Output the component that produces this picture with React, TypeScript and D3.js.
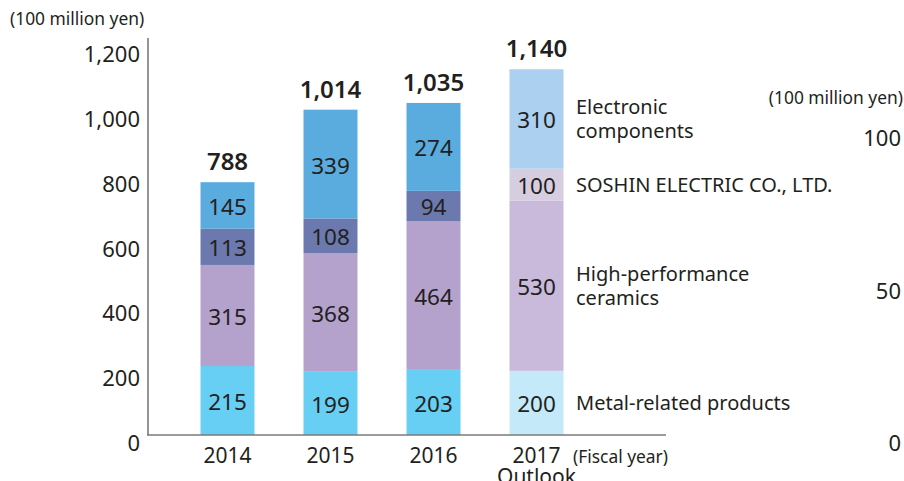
import React from "react";
import * as d3 from "d3";

const categories = ["2014", "2015", "2016", "2017"];
const metal = [215, 199, 203, 200];
const ceramics = [315, 368, 464, 530];
const soshin = [113, 108, 94, 100];
const electronic = [145, 339, 274, 310];
const totals = ["788", "1,014", "1,035", "1,140"];
const leftTicks = [0, 200, 400, 600, 800, 1000, 1200];
const rightTicks = [0, 50, 100];
const seriesKeys = ["metal", "ceramics", "soshin", "electronic"];
const legendLines = [
  ["Metal-related products"],
  ["High-performance", "ceramics"],
  ["SOSHIN ELECTRIC CO., LTD."],
  ["Electronic", "components"],
];
const colors = ["#67cef4", "#b4a1cc", "#6b79ae", "#5aabde"];
const outlookColors = ["#c4e9f8", "#c9badc", "#d7cde1", "#acd0ef"];

const FONT = "'Noto Sans', 'Open Sans', sans-serif";
const TEXT = "#231f20";

export default function App() {
  const W = 904;
  const H = 481;
  const x = d3
    .scaleBand<string>()
    .domain(categories)
    .range([176, 588])
    .paddingInner(0.476)
    .paddingOuter(0.238);
  const y = d3.scaleLinear().domain([0, 1200]).range([435, 50]);
  const yLabel = d3.scaleLinear().domain([0, 1200]).range([442, 53]);
  const yR = d3.scaleLinear().domain([0, 100]).range([442, 137]);

  const rows = categories.map((c, i) => ({
    cat: c,
    metal: metal[i],
    ceramics: ceramics[i],
    soshin: soshin[i],
    electronic: electronic[i],
  }));
  const stacked = d3.stack<any>().keys(seriesKeys)(rows);
  const lastIdx = categories.length - 1;
  const axisColor = "#7a7a7a";

  return (
    <svg
      width={W}
      height={H}
      style={{ position: "absolute", left: 0, top: 0, background: "#fff" }}
      fontFamily={FONT}
    >
      {/* left unit */}
      <text x={10} y={18} fontSize={17.4} fill={TEXT} dominantBaseline="central">
        (100 million yen)
      </text>
      {/* left ticks */}
      {leftTicks.map((t) => (
        <text
          key={t}
          x={140}
          y={yLabel(t)}
          fontSize={22}
          fill={TEXT}
          textAnchor="end"
          dominantBaseline="central"
        >
          {d3.format(",")(t)}
        </text>
      ))}
      {/* bars */}
      {stacked.map((s, si) =>
        s.map((d, ci) => {
          const bx = x(categories[ci])!;
          const bw = x.bandwidth();
          const y0 = y(d[0]);
          const y1 = y(d[1]);
          const fill = ci === lastIdx ? outlookColors[si] : colors[si];
          return (
            <g key={`${si}-${ci}`}>
              <rect x={bx} y={y1} width={bw} height={y0 - y1} fill={fill} />
              <text
                x={bx + bw / 2}
                y={(y0 + y1) / 2 + 1}
                fontSize={22.5}
                fill={TEXT}
                textAnchor="middle"
                dominantBaseline="central"
              >
                {d[1] - d[0]}
              </text>
            </g>
          );
        })
      )}
      {/* totals */}
      {categories.map((c, i) => {
        const top = stacked[stacked.length - 1][i][1];
        return (
          <text
            key={c}
            x={x(c)! + x.bandwidth() / 2}
            y={y(top) - 12}
            fontSize={24}
            fontWeight={600}
            fill={TEXT}
            textAnchor="middle"
          >
            {totals[i]}
          </text>
        );
      })}
      {/* legend labels next to last bar */}
      {stacked.map((s, si) => {
        const d = s[lastIdx];
        const mid = (y(d[0]) + y(d[1])) / 2;
        const lines = legendLines[si];
        const lh = 24;
        const start = mid - ((lines.length - 1) * lh) / 2;
        return (
          <g key={si}>
            {lines.map((l, li) => (
              <text
                key={li}
                x={576}
                y={start + li * lh}
                fontSize={20}
                fill={TEXT}
                dominantBaseline="central"
              >
                {l}
              </text>
            ))}
          </g>
        );
      })}
      {/* axes lines */}
      <line x1={148} x2={148} y1={38} y2={435.5} stroke={axisColor} strokeWidth={1.6} />
      <line x1={147.2} x2={666} y1={435} y2={435} stroke={axisColor} strokeWidth={1.6} />
      {/* x labels */}
      {categories.map((c) => (
        <text
          key={c}
          x={x(c)! + x.bandwidth() / 2}
          y={455}
          fontSize={21}
          fill={TEXT}
          textAnchor="middle"
          dominantBaseline="central"
        >
          {c}
        </text>
      ))}
      <text
        x={x(categories[lastIdx])! + x.bandwidth() / 2}
        y={476}
        fontSize={21}
        fill={TEXT}
        textAnchor="middle"
        dominantBaseline="central"
      >
        Outlook
      </text>
      <text x={573} y={456} fontSize={17.4} fill={TEXT} dominantBaseline="central">
        (Fiscal year)
      </text>
      {/* right axis */}
      <text x={903} y={97} fontSize={17.4} fill={TEXT} textAnchor="end" dominantBaseline="central">
        (100 million yen)
      </text>
      {rightTicks.map((t) => (
        <text
          key={t}
          x={901}
          y={yR(t)}
          fontSize={22}
          fill={TEXT}
          textAnchor="end"
          dominantBaseline="central"
        >
          {t}
        </text>
      ))}
    </svg>
  );
}
